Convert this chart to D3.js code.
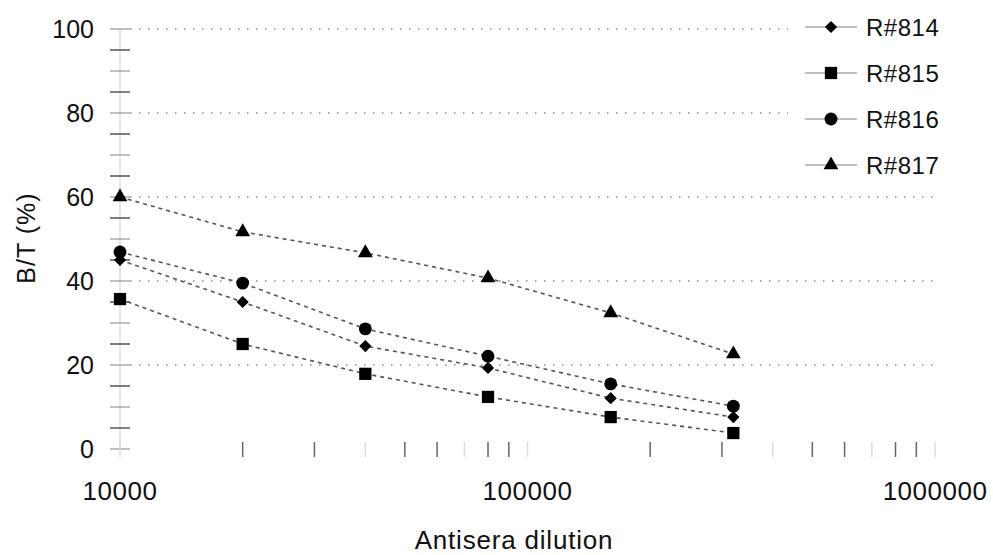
<!DOCTYPE html>
<html>
<head>
<meta charset="utf-8">
<script src="https://cdn.jsdelivr.net/npm/d3@7"></script>
<style>
  body { margin: 0; background: #fff; }
  text { font-family: "Liberation Sans", Arial, sans-serif; fill: #111; }
</style>
</head>
<body>
<svg id="chart"></svg>
<script>
// Antisera dilutions (x) and B/T percentages per antiserum
const dilutions = [10000, 20000, 40000, 80000, 160000, 320000];
const seriesNames = ["R#814", "R#815", "R#816", "R#817"];
const r814 = [45, 35, 24.5, 19.3, 12.1, 7.6];
const r815 = [35.7, 25, 17.9, 12.4, 7.6, 3.8];
const r816 = [46.9, 39.5, 28.6, 22.1, 15.5, 10.2];
const r817 = [60, 51.7, 46.7, 40.7, 32.4, 22.6];
const yTickLabels = [0, 20, 40, 60, 80, 100];
const xTickLabels = [10000, 100000, 1000000];

const width = 993, height = 555;
const svg = d3.select("#chart").attr("width", width).attr("height", height);

// Scales
const x = d3.scaleLog().domain([10000, 1000000]).range([120, 935]);
const y = d3.scaleLinear().domain([0, 100]).range([449, 29]);

// Dotted horizontal gridlines
svg.append("g")
  .selectAll("line")
  .data(yTickLabels.filter(d => d > 0))
  .enter()
  .append("line")
  .attr("x1", 130)
  .attr("x2", x(1000000))
  .attr("y1", d => y(d))
  .attr("y2", d => y(d))
  .attr("stroke", "#8a8a8a")
  .attr("stroke-width", 1.5)
  .attr("stroke-dasharray", "1.5,7.5");

// Y axis: light spine with ticks every 5
svg.append("line")
  .attr("x1", x(10000)).attr("x2", x(10000))
  .attr("y1", y(100)).attr("y2", y(0))
  .attr("stroke", "#dddddd")
  .attr("stroke-width", 1.5);

svg.append("g")
  .selectAll("line")
  .data(d3.range(0, 101, 5))
  .enter()
  .append("line")
  .attr("x1", 110)
  .attr("x2", 130)
  .attr("y1", d => y(d))
  .attr("y2", d => y(d))
  .attr("stroke", d => (d % 10 === 5 ? "#555" : "#aaa"))
  .attr("stroke-width", 1.5);

svg.append("g")
  .selectAll("text")
  .data(yTickLabels)
  .enter()
  .append("text")
  .attr("x", 94)
  .attr("y", d => y(d))
  .attr("dy", "0.36em")
  .attr("text-anchor", "end")
  .attr("font-size", "25px")
  .text(d => d);

// X axis: log minor ticks only, no spine
const xTicks = x.ticks();
svg.append("g")
  .selectAll("line")
  .data(xTicks)
  .enter()
  .append("line")
  .attr("x1", d => x(d))
  .attr("x2", d => x(d))
  .attr("y1", 442)
  .attr("y2", 457)
  .attr("stroke", (d, i) => (i % 3 === 0 ? "#ddd" : "#666"))
  .attr("stroke-width", 1.5);

svg.append("g")
  .selectAll("text")
  .data(xTickLabels)
  .enter()
  .append("text")
  .attr("x", d => x(d))
  .attr("y", 491)
  .attr("dy", "0.36em")
  .attr("text-anchor", "middle")
  .attr("font-size", "26px")
  .attr("letter-spacing", "0.5px")
  .text(d => d);

// Axis titles
svg.append("text")
  .attr("x", 514)
  .attr("y", 549)
  .attr("text-anchor", "middle")
  .attr("font-size", "26px")
  .attr("letter-spacing", "0.8px")
  .text("Antisera dilution");

svg.append("text")
  .attr("transform", "translate(35,238) rotate(-90)")
  .attr("text-anchor", "middle")
  .attr("font-size", "25px")
  .attr("letter-spacing", "1px")
  .text("B/T (%)");

// Marker shapes per series
const symbols = [
  d3.symbol().type(d3.symbolDiamond2).size(95),
  d3.symbol().type(d3.symbolSquare).size(150),
  d3.symbol().type(d3.symbolCircle).size(130),
  d3.symbol().type(d3.symbolTriangle).size(95)
];

const allSeries = [r814, r815, r816, r817].map((vals, i) => ({
  name: seriesNames[i],
  symbol: symbols[i],
  points: dilutions.map((d, j) => ({ x: d, y: vals[j] }))
}));

const line = d3.line().x(d => x(d.x)).y(d => y(d.y));

const seriesGroups = svg.append("g")
  .selectAll("g")
  .data(allSeries)
  .enter()
  .append("g");

seriesGroups.append("path")
  .attr("d", d => line(d.points))
  .attr("fill", "none")
  .attr("stroke", "#555")
  .attr("stroke-width", 1.6)
  .attr("stroke-dasharray", "4,4");

seriesGroups.each(function (s) {
  d3.select(this)
    .selectAll("path.marker")
    .data(s.points)
    .enter()
    .append("path")
    .attr("class", "marker")
    .attr("transform", d => `translate(${x(d.x)},${y(d.y)})`)
    .attr("d", s.symbol())
    .attr("fill", "#000");
});

// Legend with white box hiding gridlines behind it
const legend = svg.append("g");
legend.append("rect")
  .attr("x", 788).attr("y", 0)
  .attr("width", 205).attr("height", 185)
  .attr("fill", "#fff");

const legendRows = legend.selectAll("g")
  .data(allSeries)
  .enter()
  .append("g")
  .attr("transform", (d, i) => `translate(0,${27 + i * 46})`);

legendRows.append("line")
  .attr("x1", 805).attr("x2", 857)
  .attr("y1", 0).attr("y2", 0)
  .attr("stroke", "#aaa")
  .attr("stroke-width", 1.5);

legendRows.append("path")
  .attr("transform", "translate(831,0)")
  .attr("d", d => d.symbol())
  .attr("fill", "#000");

legendRows.append("text")
  .attr("x", 866)
  .attr("y", 0)
  .attr("dy", "0.36em")
  .attr("font-size", "24px")
  .attr("letter-spacing", "0.5px")
  .text(d => d.name);
</script>
</body>
</html>
